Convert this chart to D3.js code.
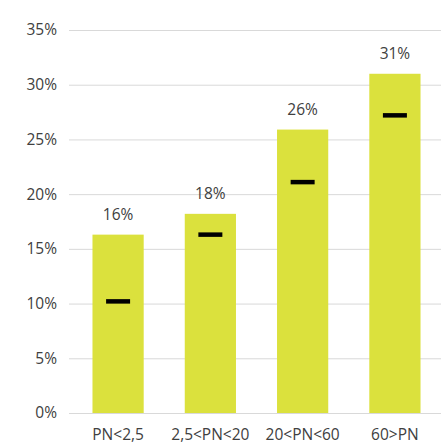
<!DOCTYPE html>
<html>
<head>
<meta charset="utf-8">
<script src="https://cdn.jsdelivr.net/npm/d3@7"></script>
<style>
html, body { margin: 0; padding: 0; background: #fff; }
svg { display: block; }
text { font-family: "Open Sans", "Noto Sans", sans-serif; fill: #404040; }
</style>
</head>
<body>
<svg id="chart" width="443" height="446"></svg>
<script>
const categories = ["PN<2,5", "2,5<PN<20", "20<PN<60", "60>PN"];
const barValues = [16.3, 18.2, 25.9, 31.0];
const barLabels = ["16%", "18%", "26%", "31%"];
const markerValues = [10.2, 16.3, 21.1, 27.2];
const yTicks = [0, 5, 10, 15, 20, 25, 30, 35];

const FS = 15.5;
const svg = d3.select("#chart");
const x = d3.scaleBand().domain(categories).range([72, 441]).paddingInner(0.445).paddingOuter(0.222);
const y = d3.scaleLinear().domain([0, 35]).range([413, 30]);

// gridlines
svg.append("g").selectAll("line").data(yTicks).join("line")
  .attr("x1", 69).attr("x2", 441)
  .attr("y1", d => y(d) + 0.5).attr("y2", d => y(d) + 0.5)
  .attr("stroke", "#d9d9d9").attr("stroke-width", 1);

// y axis labels
const yAxis = d3.axisLeft(y).tickValues(yTicks).tickFormat(d => d + "%").tickSize(0).tickPadding(0);
const ga = svg.append("g").attr("transform", "translate(57,0)").call(yAxis);
ga.select(".domain").remove();
ga.selectAll("text").attr("font-size", FS).attr("fill", "#404040")
  .style("font-family", '"Open Sans", "Noto Sans", sans-serif');

// bars
svg.append("g").selectAll("rect").data(categories).join("rect")
  .attr("x", d => x(d))
  .attr("width", x.bandwidth())
  .attr("y", (d, i) => y(barValues[i]))
  .attr("height", (d, i) => y(0) - y(barValues[i]))
  .attr("fill", "#dbe13d");

// markers
svg.append("g").selectAll("line").data(categories).join("line")
  .attr("x1", d => x(d) + x.bandwidth() / 2 - 12)
  .attr("x2", d => x(d) + x.bandwidth() / 2 + 12)
  .attr("y1", (d, i) => y(markerValues[i]))
  .attr("y2", (d, i) => y(markerValues[i]))
  .attr("stroke", "#000").attr("stroke-width", 4.5);

// bar labels
svg.append("g").selectAll("text").data(categories).join("text")
  .attr("x", d => x(d) + x.bandwidth() / 2)
  .attr("y", (d, i) => y(barValues[i]) - 15)
  .attr("text-anchor", "middle")
  .attr("font-size", FS)
  .text((d, i) => barLabels[i]);

// x axis labels
const xAxis = d3.axisBottom(x).tickSize(0).tickPadding(0);
const gx = svg.append("g").attr("transform", "translate(0,428.5)").call(xAxis);
gx.select(".domain").remove();
gx.selectAll("text").attr("font-size", FS).attr("fill", "#404040")
  .style("font-family", '"Open Sans", "Noto Sans", sans-serif');
</script>
</body>
</html>
